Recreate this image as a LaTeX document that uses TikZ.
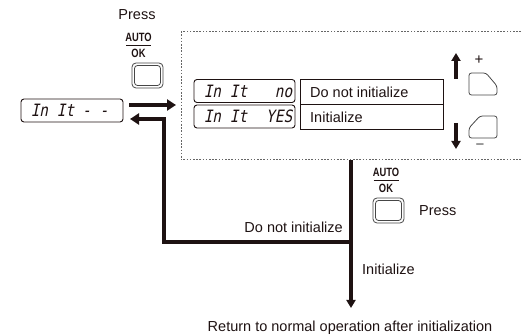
\documentclass[tikz,border=0pt]{standalone}
\usepackage{fontspec}
\setmainfont{Liberation Sans}
\newfontfamily\segfont[FakeSlant=0.2,FakeStretch=0.85]{DejaVu Sans Mono}
\newfontfamily\keyfont[FakeStretch=0.78]{Liberation Sans}
\usetikzlibrary{arrows.meta,calc}
\definecolor{ink}{RGB}{30,18,18}
\definecolor{btn}{RGB}{70,70,70}
\begin{document}
\begin{tikzpicture}[x=1pt,y=-1pt,
  lbl/.style={font=\fontsize{14.5}{16}\selectfont, inner sep=0pt, text=ink},
  keylbl/.style={font=\keyfont\bfseries\fontsize{12}{12}\selectfont, inner sep=0pt, text=ink},
  disp/.style={draw=ink, line width=0.9pt, rounded corners=3pt, inner sep=0pt},
  segtxt/.style={font=\segfont\fontsize{17}{17}\selectfont, inner sep=0pt, text=ink, text height=12.4pt, text depth=0pt},
  cell/.style={draw=ink, line width=0.9pt},
  thk/.style={draw=ink, line width=4pt},
  bigtip/.style={-{Triangle[length=9pt,width=11pt]}},
  smalltip/.style={-{Triangle[length=8pt,width=9pt]}},
  keybtn/.style={draw=btn, line width=0.8pt},
  dotbox/.style={draw=gray!80!black, line width=1pt, dash pattern=on 1.6pt off 1.6pt}
]
\useasboundingbox (0,0) rectangle (523,336);

% ---------- left key ----------
\node[lbl] (press1) at (137,15) {Press};
\node[keylbl] (auto1) at (138.5,37) {AUTO};
\node[keylbl] (ok1) at (138.5,53.5) {OK};
\draw[line width=0.7pt, ink] (126,45) -- (151,45);
\draw[keybtn, rounded corners=4pt] (132,63) rectangle (163,88);
\draw[keybtn, rounded corners=3pt] (134.5,65.5) rectangle (160.5,85.5);

% ---------- left display ----------
\node[disp, minimum width=102pt, minimum height=23pt] (d0) at (72,110.5) {};
\node[segtxt, anchor=west] (d0a) at ($(d0.west)+(10,0)$) {In It};
\node[segtxt, anchor=east] (d0b) at ($(d0.east)+(-15,0)$) {- -};

% ---------- dotted box ----------
\coordinate (bxtl) at (181,32);
\coordinate (bxtr) at (521,32);
\coordinate (bxbl) at (181,160);
\coordinate (bxbr) at (521,160);
\draw[dotbox] (bxtr) -- (bxtl) -- (bxbl) -- (bxbr);

% displays inside
\node[disp, minimum width=101pt, minimum height=23pt] (d1) at (244.5,91) {};
\node[segtxt, anchor=west] (d1a) at ($(d1.west)+(10,0)$) {In It};
\node[segtxt, anchor=east] (d1b) at ($(d1.east)+(-3,0)$) {no};
\node[disp, minimum width=101pt, minimum height=23pt] (d2) at (244.5,116.5) {};
\node[segtxt, anchor=west] (d2a) at ($(d2.west)+(10,0)$) {In It};
\node[segtxt, anchor=east] (d2b) at ($(d2.east)+(-3,0)$) {YES};

% table
\node[cell, minimum width=143pt, minimum height=25pt, anchor=north west] (c1) at (300,79) {};
\node[cell, minimum width=143pt, minimum height=25pt, anchor=north west] (c2) at (300,104) {};
\node[lbl, anchor=west] (t1) at ($(c1.west)+(10,0)$) {Do not initialize};
\node[lbl, anchor=west] (t2) at ($(c2.west)+(10,0)$) {Initialize};

% up / down keys
\draw[keybtn, rounded corners=2.5pt] (469,73) -- (486,73) -- (497,86) -- (497,95) -- (469,95) -- cycle;
\draw[keybtn, rounded corners=2.5pt] (480,116) -- (497,116) -- (497,138) -- (469,138) -- (469,128) -- cycle;
\node[font=\fontsize{15}{15}\selectfont, text=ink, inner sep=0pt] (plus) at (479,60) {+};
\node[font=\fontsize{15}{15}\selectfont, text=btn, inner sep=0pt] (minus) at (480,147) {−};
\coordinate (up1) at (456,79);
\coordinate (up2) at (456,53);
\coordinate (dn1) at (456,123);
\coordinate (dn2) at (456,149);
\draw[thk, line width=3.5pt, -{Triangle[length=8pt,width=9pt]}] (up1) -- (up2);
\draw[thk, line width=3.5pt, -{Triangle[length=8pt,width=9pt]}] (dn1) -- (dn2);

% ---------- arrows between display and box ----------
\coordinate (ra1) at (129,105);
\coordinate (ra2) at (176,105);
\draw[thk, bigtip] (ra1) -- (ra2);

\coordinate (mtop) at (351,160);
\coordinate (mjoin) at (351,242);
\coordinate (mend) at (351,308);
\coordinate (lcorner) at (164,242);
\coordinate (lup) at (164,119);
\coordinate (ltip) at (130,119);
\draw[thk, smalltip] (mtop) -- (mend);
\draw[thk, bigtip] (mjoin) -- (lcorner) -- (lup) -- (ltip);

% ---------- second key ----------
\node[keylbl] (auto2) at (386,172) {AUTO};
\node[keylbl] (ok2) at (386,188.5) {OK};
\draw[line width=0.7pt, ink] (373.5,180) -- (398.5,180);
\draw[keybtn, rounded corners=4pt] (373,198) rectangle (404,223);
\draw[keybtn, rounded corners=3pt] (375.5,200.5) rectangle (401.5,220.5);
\node[lbl, anchor=west] (press2) at (419,211) {Press};

% ---------- labels ----------
\node[lbl, anchor=east] (lno) at (343,227) {Do not initialize};
\node[lbl, anchor=west] (lyes) at (362,269) {Initialize};
\node[lbl, anchor=base] (ret) at (350,332) {Return to normal operation after initialization};
\end{tikzpicture}
\end{document}
